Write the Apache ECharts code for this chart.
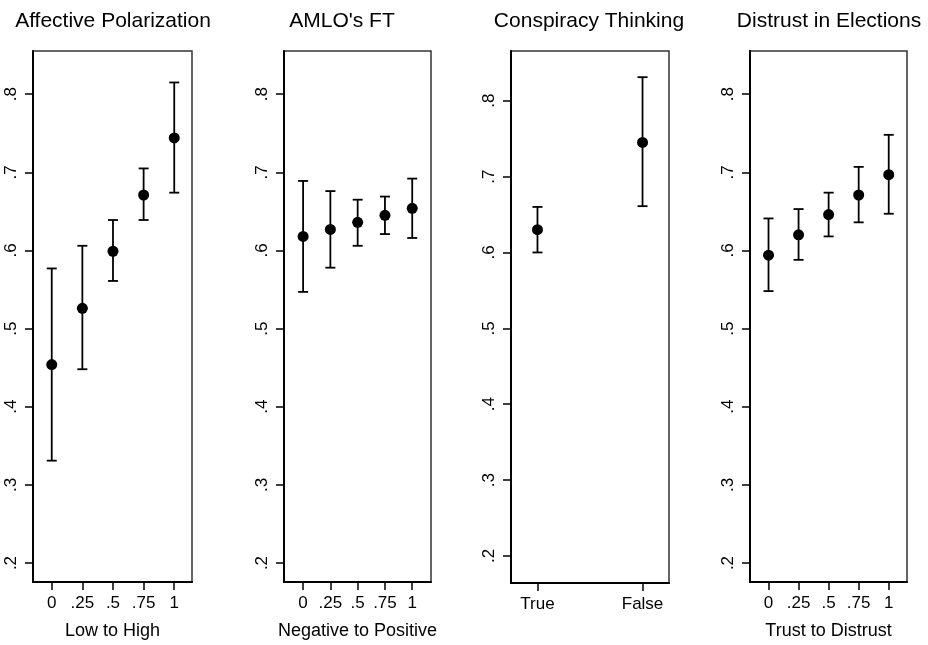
<!DOCTYPE html>
<html lang="en">
<head>
	<meta charset="utf-8" />
	<title>Predicted values by attitude</title>
	<style>
		html, body { margin: 0; padding: 0; background: #fff; }
		#chart { width: 928px; height: 645px; }
	</style>
</head>
<body>
	<div id="chart"></div>
	<script type="text/javascript" src="https://cdn.jsdelivr.net/npm/echarts@6/dist/echarts.min.js"></script>
	<script type="text/javascript">
		// tick values / labels
		const xLevels = [0, 0.25, 0.5, 0.75, 1];
		const xLevelLabels = ['0', '.25', '.5', '.75', '1'];
		const yTicks = [0.2, 0.3, 0.4, 0.5, 0.6, 0.7, 0.8];
		const yTickLabels = ['.2', '.3', '.4', '.5', '.6', '.7', '.8'];

		// panel titles and axis names
		const panelTitles = ['Affective Polarization', "AMLO's FT", 'Conspiracy Thinking', 'Distrust in Elections'];
		const panelAxisNames = ['Low to High', 'Negative to Positive', '', 'Trust to Distrust'];

		// affective polarization
		const polarEst = [0.454, 0.526, 0.599, 0.671, 0.744];
		const polarLo = [0.331, 0.448, 0.561, 0.639, 0.674];
		const polarHi = [0.577, 0.606, 0.639, 0.705, 0.815];

		// AMLO feeling thermometer
		const amloEst = [0.618, 0.627, 0.636, 0.645, 0.654];
		const amloLo = [0.547, 0.578, 0.606, 0.621, 0.616];
		const amloHi = [0.689, 0.676, 0.665, 0.669, 0.692];

		// conspiracy thinking (two groups)
		const conspCats = ['True', 'False'];
		const conspPos = [1, 2];
		const conspEst = [0.630, 0.745];
		const conspLo = [0.600, 0.661];
		const conspHi = [0.660, 0.831];

		// distrust in elections
		const distrustEst = [0.594, 0.620, 0.646, 0.671, 0.697];
		const distrustLo = [0.548, 0.588, 0.618, 0.636, 0.647];
		const distrustHi = [0.641, 0.653, 0.674, 0.707, 0.748];

		const FONT = 'Liberation Sans, Arial, Helvetica, sans-serif';

		// layout of the four frames
		const grids = [
			{ left: 33, top: 51, width: 159, height: 532 },
			{ left: 284, top: 51, width: 147, height: 532 },
			{ left: 511, top: 51, width: 158, height: 532 },
			{ left: 750, top: 51, width: 157, height: 532 }
		];
		const titleCenters = [113, 342, 589, 829];
		const xRanges = [[-0.153, 1.145], [-0.175, 1.172], [0.748, 2.252], [-0.154, 1.152]];
		const yRanges = [[0.1757, 0.8553], [0.1757, 0.8553], [0.1644, 0.8655], [0.1757, 0.8553]];

		const panels = [
			{ x: xLevels, est: polarEst, lo: polarLo, hi: polarHi, ticks: xLevels, labels: xLevelLabels },
			{ x: xLevels, est: amloEst, lo: amloLo, hi: amloHi, ticks: xLevels, labels: xLevelLabels },
			{ x: conspPos, est: conspEst, lo: conspLo, hi: conspHi, ticks: conspPos, labels: conspCats },
			{ x: xLevels, est: distrustEst, lo: distrustLo, hi: distrustHi, ticks: xLevels, labels: xLevelLabels }
		];

		function labelFor(v, ticks, labels) {
			for (let i = 0; i < ticks.length; i++) {
				if (Math.abs(ticks[i] - v) < 1e-6) return labels[i];
			}
			return '';
		}

		// error bar with caps
		function renderCI(params, api) {
			const x = api.value(0);
			const top = api.coord([x, api.value(2)]);
			const bot = api.coord([x, api.value(1)]);
			const half = 5;
			const style = { stroke: '#000', lineWidth: 1.8 };
			return {
				type: 'group',
				children: [
					{ type: 'line', shape: { x1: top[0], y1: top[1], x2: bot[0], y2: bot[1] }, style: style },
					{ type: 'line', shape: { x1: top[0] - half, y1: top[1], x2: top[0] + half, y2: top[1] }, style: style },
					{ type: 'line', shape: { x1: bot[0] - half, y1: bot[1], x2: bot[0] + half, y2: bot[1] }, style: style }
				]
			};
		}

		const chart = echarts.init(document.getElementById('chart'), null, { renderer: 'canvas' });

		const option = {
			animation: false,
			backgroundColor: '#fff',
			title: panelTitles.map(function (t, i) {
				return {
					text: t,
					left: titleCenters[i],
					top: 11,
					textAlign: 'center',
					padding: 0,
					textStyle: { fontFamily: FONT, fontSize: 21, fontWeight: 'normal', color: '#000' }
				};
			}),
			grid: grids.map(function (g) {
				return Object.assign({ show: true, borderColor: '#333', borderWidth: 1.5, backgroundColor: 'transparent' }, g);
			}),
			xAxis: panels.map(function (p, i) {
				return {
					type: 'value',
					gridIndex: i,
					min: xRanges[i][0],
					max: xRanges[i][1],
					name: panelAxisNames[i],
					nameLocation: 'middle',
					nameGap: 40,
					nameTextStyle: { fontFamily: FONT, fontSize: 18, color: '#000' },
					splitLine: { show: false },
					axisLine: { show: true, onZero: false, lineStyle: { color: '#000', width: 2 } },
					axisTick: { show: true, length: 8, customValues: p.ticks, lineStyle: { color: '#000', width: 1.5 } },
					axisLabel: {
						customValues: p.ticks,
						margin: 13,
						fontFamily: FONT,
						fontSize: 17,
						color: '#000',
						formatter: function (v) { return labelFor(v, p.ticks, p.labels); }
					}
				};
			}),
			yAxis: panels.map(function (p, i) {
				return {
					type: 'value',
					gridIndex: i,
					min: yRanges[i][0],
					max: yRanges[i][1],
					splitLine: { show: false },
					axisLine: { show: true, onZero: false, lineStyle: { color: '#000', width: 2 } },
					axisTick: { show: true, length: 8, customValues: yTicks, lineStyle: { color: '#000', width: 1.5 } },
					axisLabel: {
						customValues: yTicks,
						rotate: 90,
						margin: 13,
						fontFamily: FONT,
						fontSize: 17,
						color: '#000',
						formatter: function (v) { return labelFor(v, yTicks, yTickLabels); }
					}
				};
			}),
			series: []
		};

		panels.forEach(function (p, i) {
			option.series.push({
				type: 'custom',
				xAxisIndex: i,
				yAxisIndex: i,
				renderItem: renderCI,
				encode: { x: 0, y: [1, 2] },
				data: p.x.map(function (x, j) { return [x, p.lo[j], p.hi[j]]; }),
				z: 2
			});
			option.series.push({
				type: 'scatter',
				xAxisIndex: i,
				yAxisIndex: i,
				symbol: 'circle',
				symbolSize: 11,
				itemStyle: { color: '#000', opacity: 1 },
				data: p.x.map(function (x, j) { return [x, p.est[j]]; }),
				z: 3
			});
		});

		chart.setOption(option);
	</script>
</body>
</html>
